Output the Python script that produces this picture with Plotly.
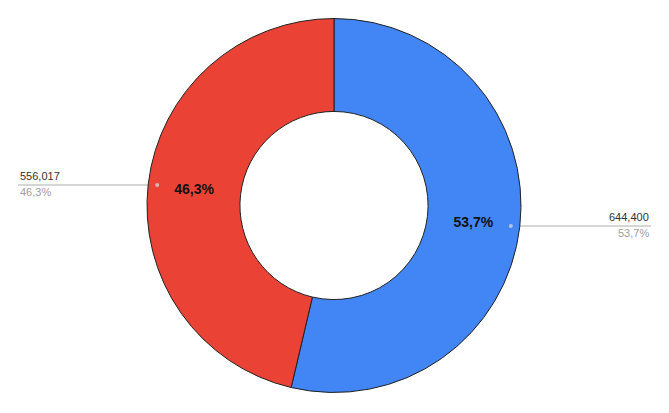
import math
import plotly.graph_objects as go

labels = ["Blue", "Red"]
values = [644400, 556017]
colors = ["#4285F4", "#EA4335"]

# the page body adds an 8px margin, so the figure is 8px smaller and offsets are shifted
OFF = 8
W, H = 669 - OFF, 413 - OFF
CX, CY, R = 334 - OFF, 205.5 - OFF, 187   # pie geometry in pixels (used to set domain)
HOLE = 0.503

total = sum(values)
pcts = [v / total * 100 for v in values]
pct_txt = [f"{p:.1f}".replace(".", ",") + "%" for p in pcts]
val_txt = [f"{v:,}" for v in values]

FONT = "Liberation Sans, Arial, sans-serif"

fig = go.Figure(go.Pie(
    labels=labels, values=values, sort=False, direction="clockwise", rotation=0,
    hole=HOLE,
    marker=dict(colors=colors, line=dict(color="#222222", width=1)),
    text=pct_txt, texttemplate="%{text}", textposition="inside",
    insidetextorientation="horizontal",
    insidetextfont=dict(family=FONT, size=14, color="#111111", weight="bold"),
    hoverinfo="label+value+percent", showlegend=False,
    domain=dict(x=[(CX - R) / W, (CX + R) / W], y=[1 - (CY + R) / H, 1 - (CY - R) / H]),
))

shapes = []
annotations = []
cum = 0
for i, v in enumerate(values):
    mid = (cum + v / 2) / total * 2 * math.pi
    cum += v
    rd = R * 0.952
    dx = CX + rd * math.sin(mid)
    dy = CY - rd * math.cos(mid)
    right = math.sin(mid) > 0
    lx = (651 - OFF) if right else (18 - OFF)
    # leader line (drawn below the pie so it only shows outside)
    shapes.append(dict(type="line", xref="paper", yref="paper", layer="below",
                       x0=dx / W, x1=lx / W, y0=1 - dy / H, y1=1 - dy / H,
                       line=dict(color="#c8c8c8", width=1.5)))
    shapes.append(dict(type="circle", xref="paper", yref="paper", layer="above",
                       x0=(dx - 2) / W, x1=(dx + 2) / W, y0=1 - (dy - 2) / H, y1=1 - (dy + 2) / H,
                       fillcolor="rgba(210,210,210,0.8)", line=dict(width=0)))
    anchor = "right" if right else "left"
    annotations.append(dict(x=lx / W, y=1 - (dy - 1) / H, xref="paper", yref="paper",
                            text=val_txt[i], showarrow=False, xanchor=anchor, yanchor="bottom",
                            font=dict(family=FONT, size=11, color="#333333")))
    annotations.append(dict(x=lx / W, y=1 - (dy - 1) / H, xref="paper", yref="paper",
                            text=pct_txt[i], showarrow=False, xanchor=anchor, yanchor="top",
                            font=dict(family=FONT, size=11, color="#9e9e9e")))

fig.update_layout(
    width=W, height=H, margin=dict(l=0, r=0, t=0, b=0),
    paper_bgcolor="white", plot_bgcolor="white",
    shapes=shapes, annotations=annotations,
)
fig.write_html("out.html")
